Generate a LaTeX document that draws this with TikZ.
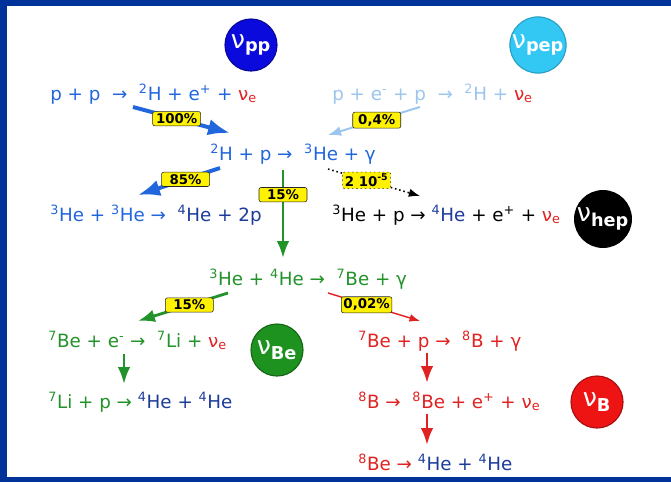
\documentclass[tikz,border=0pt]{standalone}
\usepackage{fontspec}
\setmainfont{DejaVu Sans}
\usepackage{tikz}
\usetikzlibrary{positioning, arrows.meta}
\definecolor{frameblue}{HTML}{003399}
\definecolor{ppblue}{HTML}{2266DD}
\definecolor{pepblue}{HTML}{9CC6EE}
\definecolor{heblue}{HTML}{1C3C9C}
\definecolor{bego}{HTML}{22922A}
\definecolor{bred}{HTML}{E02222}
\definecolor{circpp}{HTML}{0A0ADC}
\definecolor{circpep}{HTML}{33C8F4}
\definecolor{circbe}{HTML}{1E921E}
\definecolor{circb}{HTML}{EE1414}
\newcommand{\isot}[2]{\textsuperscript{#1}#2}
\newcommand{\nue}{{\color{bred}ν\textsubscript{e}}}
\tikzset{>={Latex}}
\tikzset{
    reaction/.style = {anchor=base west, inner sep=0pt, font=\fontsize{13}{15}\selectfont},
    ratio/.style = {rectangle, draw=black!85, fill=yellow, text=black, rounded corners=1.5pt, thin,
                        inner sep=1.5pt, minimum width=1.2cm, font=\fontsize{9.5}{10}\selectfont\bfseries},
    nusource/.style = {circle, draw, thick, text=white, minimum size=1.3cm, inner sep=0pt,
                        font=\fontsize{18}{18}\selectfont}
}

\begin{document}
\begin{tikzpicture}[x=0.025cm, y=-0.025cm]
			\useasboundingbox (0,0) rectangle (671,482);
			\fill [frameblue] (0,0) rectangle (671,482);
			\fill [white] (7,6) rectangle (671,477);
			% neutrino sources
			\node (nupp) [nusource, fill=circpp, draw=circpp!70!black] at (251,45) {ν\textsubscript{\bfseries pp}};
			\node (nupep) [nusource, fill=circpep, draw=circpep!80!black] at (538,45) {ν\textsubscript{\bfseries pep}};
			\node (nuhep) [nusource, fill=black] at (603,219) {ν\textsubscript{\bfseries hep}};
			\node (nube) [nusource, fill=circbe, draw=circbe!70!black] at (277,350) {ν\textsubscript{\bfseries Be}};
			\node (nub) [nusource, fill=circb, draw=circb!70!black] at (597,402) {ν\textsubscript{\bfseries B}};
			% reactions
			\node (pp) [reaction, text=ppblue] at (50,100) {p + p \ → \ \isot{2}{H} + e\textsuperscript{+} + \nue};
			\node (pep) [reaction, text=pepblue] at (332,100) {p + e\textsuperscript{-} + p \ → \ \isot{2}{H} + \nue};
			\node (dp) [reaction, text=ppblue] at (210,160) {\isot{2}{H} + p → \ \isot{3}{He} + γ};
			\node (hehe) [reaction, text=ppblue] at (50,221) {\isot{3}{He} + \isot{3}{He} → \ {\color{heblue}\isot{4}{He} + 2p}};
			\node (hep) [reaction, text=black] at (332,221) {\isot{3}{He} + p → {\color{heblue}\isot{4}{He}} + e\textsuperscript{+} + \nue};
			\node (he34) [reaction, text=bego] at (209,285) {\isot{3}{He} + \isot{4}{He} → \ \isot{7}{Be} + γ};
			\node (bee) [reaction, text=bego] at (48,347) {\isot{7}{Be} + e\textsuperscript{-} → \ \isot{7}{Li} + \nue};
			\node (bep) [reaction, text=bred] at (358,347) {\isot{7}{Be} + p → \ \isot{8}{B} + γ};
			\node (lip) [reaction, text=bego] at (48,408) {\isot{7}{Li} + p → {\color{heblue}\isot{4}{He} + \isot{4}{He}}};
			\node (bdecay) [reaction, text=bred] at (358,408) {\isot{8}{B} → \ \isot{8}{Be} + e\textsuperscript{+} + ν\textsubscript{e}};
			\node (bedecay) [reaction, text=bred] at (358,470) {\isot{8}{Be} → {\color{heblue}\isot{4}{He} + \isot{4}{He}}};
			% arrow ends
			\coordinate (a1) at (133,107);
			\coordinate (a2) at (230,133);
			\coordinate (b1) at (420,107);
			\coordinate (b2) at (328,135);
			\coordinate (c1) at (220,168);
			\coordinate (c2) at (138,195);
			\coordinate (d1) at (283,170);
			\coordinate (d2) at (283,258);
			\coordinate (e1) at (328,169);
			\coordinate (e2) at (420,196);
			\coordinate (f1) at (228,293);
			\coordinate (f2) at (138,321);
			\coordinate (g1) at (328,293);
			\coordinate (g2) at (420,321);
			\coordinate (h1) at (124,354);
			\coordinate (h2) at (124,384);
			\coordinate (i1) at (427,353);
			\coordinate (i2) at (427,383);
			\coordinate (j1) at (427,414);
			\coordinate (j2) at (427,445);
			% branches
			\draw [->, ppblue, line width=2.8pt] (a1) to node[ratio, pos=0.45] {100\%} (a2);
			\draw [->, pepblue, line width=1.4pt] (b1) to node[ratio, pos=0.47] {0,4\%} (b2);
			\draw [->, ppblue, line width=2.8pt] (c1) to node[ratio, pos=0.42] {85\%} (c2);
			\draw [->, bego, line width=2pt] (d1) to node[ratio, pos=0.28] {15\%} (d2);
			\draw [->, black, line width=1.1pt, dotted] (e1) to node[ratio, pos=0.42] {2 10\textsuperscript{-5}} (e2);
			\draw [->, bego, line width=2pt] (f1) to node[ratio, pos=0.43] {15\%} (f2);
			\draw [->, bred, line width=1pt] (g1) to node[ratio, pos=0.42] {0,02\%} (g2);
			\draw [->, bego, line width=2pt] (h1) to (h2);
			\draw [->, bred, line width=2pt] (i1) to (i2);
			\draw [->, bred, line width=2pt] (j1) to (j2);
		\end{tikzpicture}
\end{document}
